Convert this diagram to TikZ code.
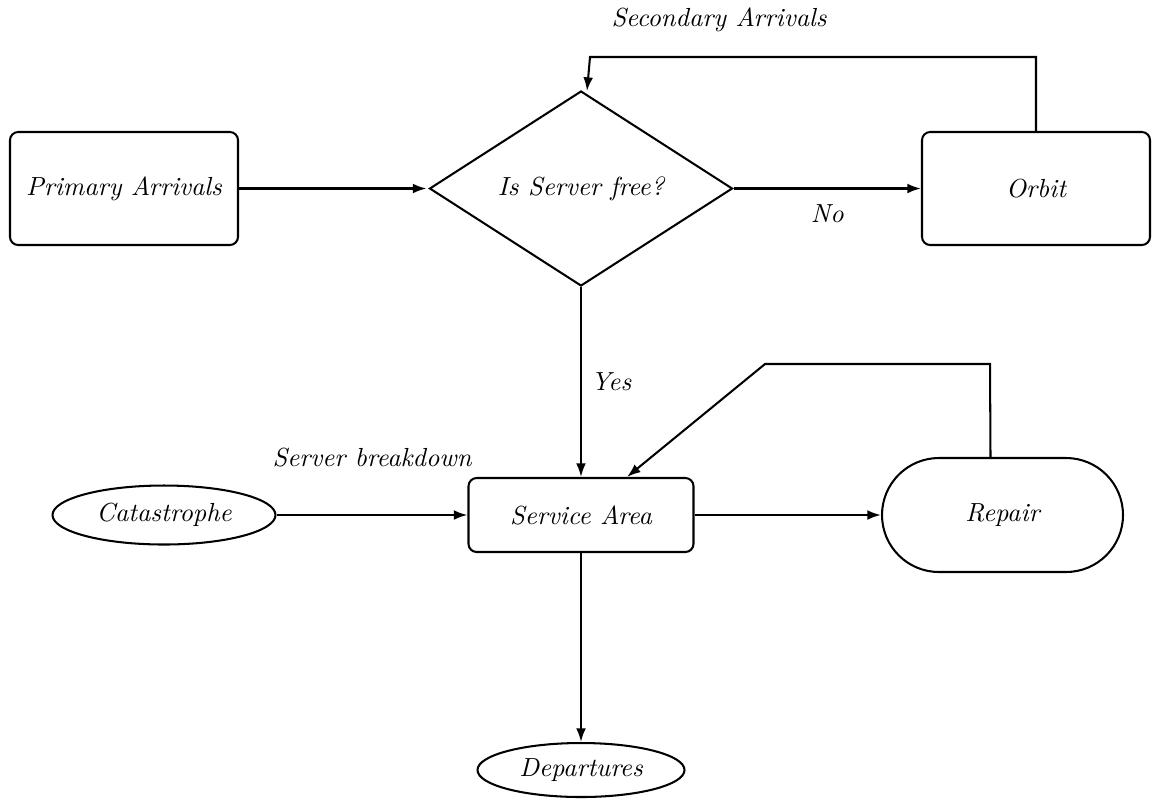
\documentclass[tikz,border=0pt]{standalone}
\usetikzlibrary{shapes.geometric,arrows.meta,calc}
\begin{document}
\begin{tikzpicture}[x=0.367pt,y=-0.367pt,
  font=\fontsize{9.6pt}{11pt}\selectfont\itshape,
  every node/.style={inner sep=0pt},
  boxst/.style={draw, line width=0.75pt, rounded corners=3pt},
  ellst/.style={draw, ellipse, line width=0.75pt},
  decst/.style={draw, diamond, line width=0.75pt},
  conn/.style={line width=0.75pt, -{Latex[length=5pt,width=3.6pt]}},
  plain/.style={line width=0.75pt}]
\useasboundingbox (0,0) rectangle (1154,800);
\node[boxst, minimum width={228*0.367pt}, minimum height={113*0.367pt}] (prim) at (124,188.5) {Primary Arrivals};
\node[decst, minimum width={303*0.367pt}, minimum height={195*0.367pt}] (dec) at (581,188.5) {Is Server free?};
\node[boxst, minimum width={228*0.367pt}, minimum height={113*0.367pt}] (orbit) at (1036,188.5) {Orbit};
\node[boxst, minimum width={225*0.367pt}, minimum height={74*0.367pt}] (serv) at (581,515) {Service Area};
\node[ellst, minimum width={223*0.367pt}, minimum height={59*0.367pt}] (cat) at (164,515) {Catastrophe};
\node[ellst, minimum width={207*0.367pt}, minimum height={54*0.367pt}] (dep) at (581,770) {Departures};
\node[draw, line width=0.75pt, rounded corners={57*0.367pt}, minimum width={241*0.367pt}, minimum height={114*0.367pt}] (rep) at (1002.5,515) {Repair};
\coordinate (s1) at (590,57);
\coordinate (r1) at (990,364);
\coordinate (r2) at (765,364);
\node (seclab) at (719,20) {Secondary Arrivals};
\draw[conn] (prim.east) -- ($(dec.west)+(-2,0)$);
\draw[conn] (dec.east) -- node[midway, yshift={-25*0.367pt}] (nolab) {No} (orbit.west);
\draw[conn] (orbit.north) |- (s1) -- ($(dec.north)+(6,1)$);
\draw[conn] (dec.south) -- node[pos=0.5, anchor=west, xshift={9*0.367pt}] (yeslab) {Yes} (serv.north);
\draw[conn] (cat.east) -- node[midway, yshift={57*0.367pt}] (brk) {Server breakdown} (serv.west);
\draw[conn] (serv.east) -- (rep.west);
\draw[conn] ($(rep.north)+(-12,0)$) -- (r1) -- (r2) -- ($(serv.north)+(46,0)$);
\draw[conn] (serv.south) -- (dep.north);
\end{tikzpicture}
\end{document}
